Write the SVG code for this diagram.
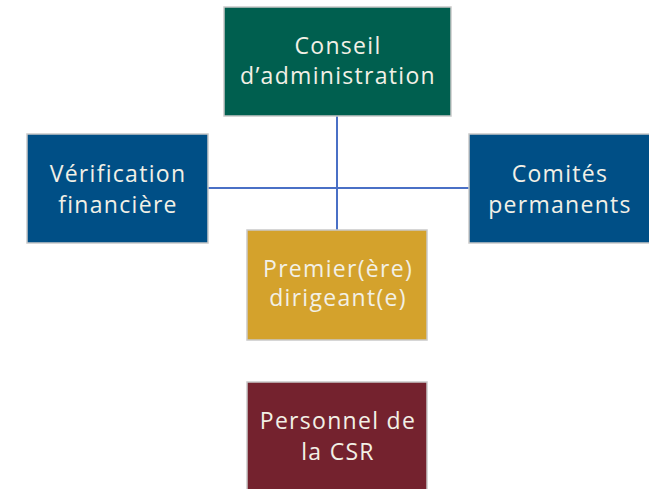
<svg xmlns="http://www.w3.org/2000/svg" width="649" height="489" viewBox="0 0 649 489">
<style>
.box{stroke:#c9c9c9;stroke-width:1.5}
.t{font-family:"Open Sans","Noto Sans",sans-serif;font-size:23px;fill:#f2f0e6;text-anchor:middle;letter-spacing:1.3px}
.c{stroke:#4a70c6;stroke-width:2;fill:none}
</style>
<rect width="649" height="489" fill="#ffffff"/>
<g id="connectors">
<line class="c" x1="337" y1="116" x2="337" y2="230"/>
<line class="c" x1="208" y1="188" x2="470" y2="188"/>
</g>
<g id="conseil">
<rect class="box" x="224" y="7" width="227" height="109" fill="#005f4f"/>
<text class="t" x="338" y="54">Conseil</text>
<text class="t" x="338" y="84">d’administration</text>
</g>
<g id="verification">
<rect class="box" x="27" y="134" width="181" height="109" fill="#004f86"/>
<text class="t" x="118" y="182">Vérification</text>
<text class="t" x="118" y="213">financière</text>
</g>
<g id="comites">
<rect class="box" x="469" y="134" width="182" height="109" fill="#004f86"/>
<text class="t" x="560" y="182">Comités</text>
<text class="t" x="560" y="213">permanents</text>
</g>
<g id="premier">
<rect class="box" x="247" y="230" width="180" height="110" fill="#d4a22c"/>
<text class="t" x="338" y="277">Premier(ère)</text>
<text class="t" x="338" y="306">dirigeant(e)</text>
</g>
<g id="personnel">
<rect class="box" x="247" y="382" width="180" height="110" fill="#74222e"/>
<text class="t" x="338" y="429">Personnel de</text>
<text class="t" x="338" y="460">la CSR</text>
</g>
</svg>
